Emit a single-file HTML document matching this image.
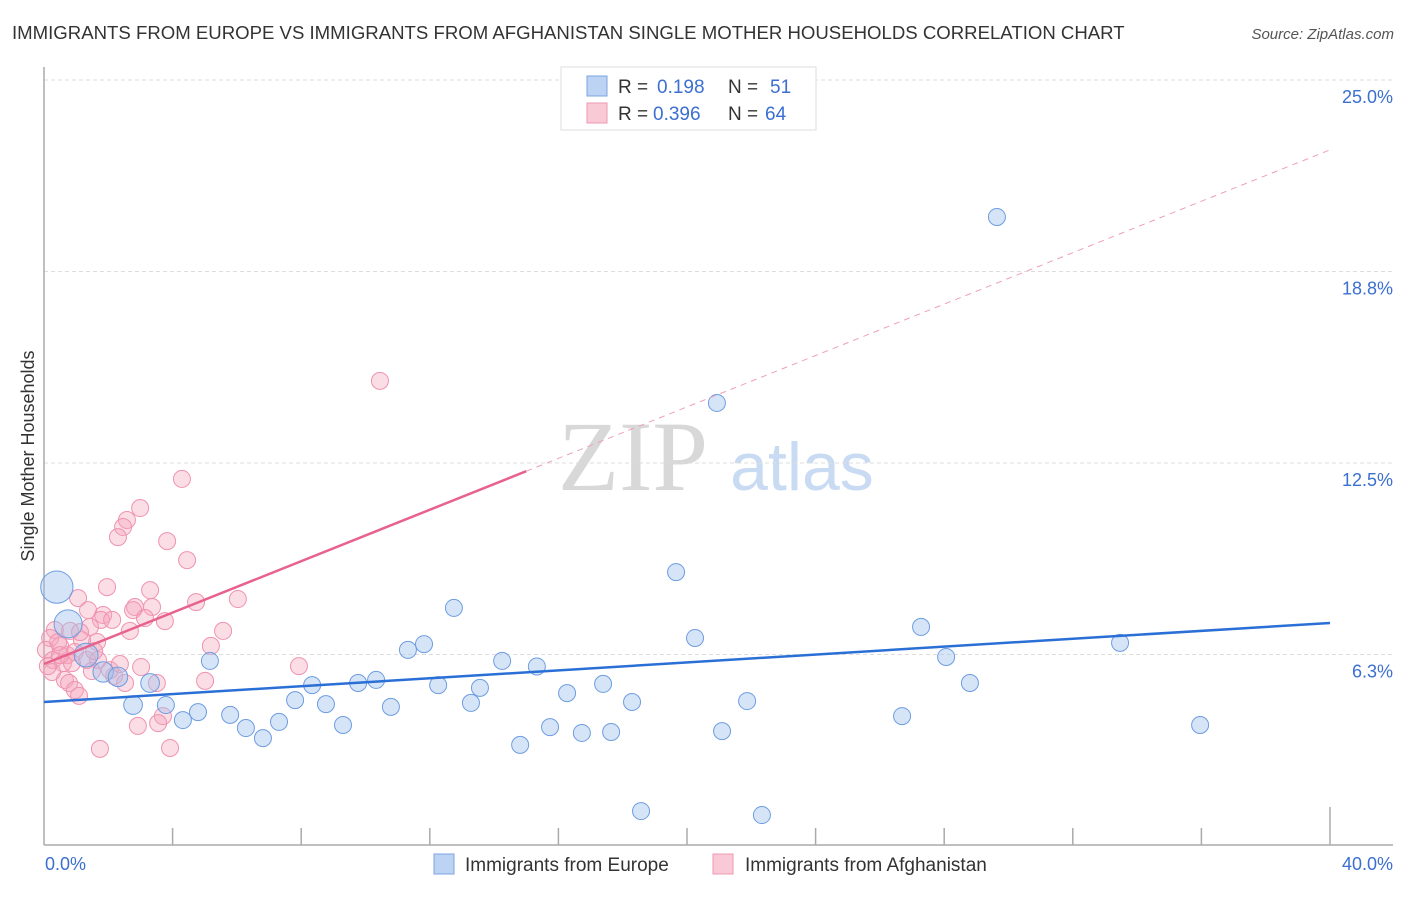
<!DOCTYPE html>
<html><head><meta charset="utf-8"><style>
body{margin:0;background:#fff;font-family:"Liberation Sans",sans-serif;}
svg text{font-family:"Liberation Sans",sans-serif;}
</style></head><body>
<svg width="1406" height="892" id="chart">
<text x="12" y="39" font-size="18.6" fill="#333">IMMIGRANTS FROM EUROPE VS IMMIGRANTS FROM AFGHANISTAN SINGLE MOTHER HOUSEHOLDS CORRELATION CHART</text>
<text x="1394" y="39" font-size="15" fill="#555" text-anchor="end" font-style="italic">Source: ZipAtlas.com</text>
<text x="633" y="490" font-size="100" fill="#d8d8d8" text-anchor="middle" style="font-family:'Liberation Serif',serif">ZIP</text>
<text x="802" y="490" font-size="68" fill="#c9daf3" text-anchor="middle">atlas</text>
<g id="grid"></g>
<line x1="44" y1="67" x2="44" y2="845" stroke="#aaa" stroke-width="1.5"/>
<line x1="44" y1="845" x2="1393" y2="845" stroke="#aaa" stroke-width="1.5"/>
<g id="ticks"></g>
<text x="34" y="456" font-size="18" fill="#333" text-anchor="middle" transform="rotate(-90 34 456)">Single Mother Households</text>
<text x="45" y="870" font-size="18" fill="#3b6fd0">0.0%</text>
<text x="1393" y="870" font-size="18" fill="#3b6fd0" text-anchor="end">40.0%</text>
<g id="pts"></g>
<g id="lines"></g>
<g>
<rect x="561" y="67" width="255" height="63" fill="#fff" stroke="#ddd"/>
<rect x="587" y="76" width="20" height="20" fill="#bcd3f3" stroke="#7aa5e0"/>
<rect x="587" y="103" width="20" height="20" fill="#f9c9d6" stroke="#ef99b3"/>
<text x="618" y="93" font-size="19" fill="#333">R =</text><text x="657" y="93" font-size="19" fill="#3b6fd0">0.198</text>
<text x="728" y="93" font-size="19" fill="#333">N =</text><text x="770" y="93" font-size="19" fill="#3b6fd0">51</text>
<text x="618" y="120" font-size="19" fill="#333">R =</text><text x="653" y="120" font-size="19" fill="#3b6fd0">0.396</text>
<text x="728" y="120" font-size="19" fill="#333">N =</text><text x="765" y="120" font-size="19" fill="#3b6fd0">64</text>
</g>
<g>
<rect x="434" y="854" width="20" height="20" fill="#bcd3f3" stroke="#7aa5e0"/>
<text x="465" y="871" font-size="19" fill="#333">Immigrants from Europe</text>
<rect x="713" y="854" width="20" height="20" fill="#f9c9d6" stroke="#ef99b3"/>
<text x="745" y="871" font-size="19" fill="#333">Immigrants from Afghanistan</text>
</g>
</svg>
<script>
const yTicks=[25.0,18.8,12.5,6.3];
const yTickVals=[25,18.75,12.5,6.25];
const blueX=[0.40,0.75,1.31,1.84,2.30,3.30,2.77,3.79,4.32,4.79,5.16,5.79,6.28,6.81,7.31,7.81,8.34,8.77,9.30,9.77,10.33,10.79,11.32,11.82,12.26,12.75,13.28,13.56,14.25,14.81,15.33,15.74,16.27,16.73,17.39,17.64,18.29,18.57,19.66,20.25,21.09,21.87,22.33,20.93,26.69,27.28,28.06,28.80,29.64,33.47,35.96];
const blueY=[8.45,7.25,6.23,5.68,5.52,5.32,4.60,4.60,4.11,4.37,6.04,4.28,3.85,3.52,4.05,4.76,5.25,4.63,3.95,5.32,5.42,4.54,6.40,6.59,5.25,7.77,4.67,5.16,6.04,3.30,5.86,3.88,4.99,3.69,5.29,3.72,4.70,1.14,8.94,6.79,3.75,4.73,1.01,14.46,4.24,7.15,6.17,5.32,20.53,6.63,3.95];
const blueW=[1.9,1.65,1.4,1.2,1.15,1.1,1.1,1,1,1,1,1,1,1,1,1,1,1,1,1,1,1,1,1,1,1,1,1,1,1,1,1,1,1,1,1,1,1,1,1,1,1,1,1,1,1,1,1,1,1,1];
const pinkX=[10.45,4.29,2.99,2.58,2.46,2.30,3.83,4.45,1.96,6.03,4.73,1.06,2.83,3.36,1.37,1.84,2.77,3.14,3.76,1.77,1.43,2.67,5.57,0.34,0.19,0.81,1.65,1.18,5.19,0.06,0.50,0.28,0.72,0.96,1.34,1.68,0.59,3.02,7.93,0.25,1.49,2.18,2.52,5.01,3.51,0.65,0.78,0.96,1.09,3.70,3.55,2.92,1.74,3.92,2.05,0.44,1.12,2.36,0.12,0.87,1.56,0.50,3.30,2.12];
const pinkY=[15.18,11.98,11.03,10.64,10.41,10.08,9.95,9.33,8.45,8.06,7.96,8.09,7.80,7.80,7.70,7.54,7.70,7.44,7.34,7.38,7.15,7.02,7.02,7.05,6.79,7.02,6.66,6.72,6.53,6.40,6.53,6.07,6.23,6.33,6.07,6.07,5.97,5.84,5.87,5.68,5.71,5.55,5.32,5.39,5.32,5.42,5.32,5.09,4.90,4.24,4.01,3.92,3.17,3.20,5.74,6.66,6.98,5.94,5.87,5.97,6.36,6.23,8.35,7.38];
const blueTrend=[4.70,7.28];
const pinkTrend=[5.94,22.72];
const xMax=40;
const NS='http://www.w3.org/2000/svg';
function X(v){return 44+v/xMax*1286;}
function Y(v){return 846-v/25*766;}
function mk(t,a,p){const e=document.createElementNS(NS,t);for(const k in a)e.setAttribute(k,a[k]);p.appendChild(e);return e;}
const grid=document.getElementById('grid');
yTickVals.forEach((v,i)=>{
 const l=mk('line',{x1:44,x2:1393,y1:Y(v),y2:Y(v),stroke:'#ddd','stroke-dasharray':'4,3'},grid);
 
 
 const t=mk('text',{x:1393,y:Y(v)+23,'font-size':18,fill:'#3b6fd0','text-anchor':'end'},grid);
 t.textContent=yTicks[i].toFixed(1)+'%';
 
 
});
const ticks=document.getElementById('ticks');
for(let i=1;i<=10;i++){
 const l=mk('line',{x1:X(i*4),x2:X(i*4),y1:i==10?807:828,y2:845,stroke:'#aaa','stroke-width':1.5},ticks);
 
 
}
const pts=document.getElementById('pts');
pinkX.forEach((v,i)=>{
 const c=mk('circle',{cx:X(v),cy:Y(pinkY[i]),r:8.5,fill:'rgba(245,165,190,0.38)',stroke:'#ef93b0','stroke-width':1},pts);
 
 
});
blueX.forEach((v,i)=>{
 const c=mk('circle',{cx:X(v),cy:Y(blueY[i]),r:8.5*blueW[i],fill:'rgba(165,195,238,0.45)',stroke:'#6d9de0','stroke-width':1},pts);
 
 
});
const lines=document.getElementById('lines');
let l=mk('line',{x1:X(0),y1:Y(blueTrend[0]),x2:X(40),y2:Y(blueTrend[1]),stroke:'#2a6fd6','stroke-width':2.5},lines);


const pf=v=>pinkTrend[0]+(pinkTrend[1]-pinkTrend[0])*v/40;
l=mk('line',{x1:X(0),y1:Y(pf(0)),x2:X(15),y2:Y(pf(15)),stroke:'#e8628e','stroke-width':2.5},lines);


l=mk('line',{x1:X(15),y1:Y(pf(15)),x2:X(40),y2:Y(pf(40)),stroke:'#eea0b8','stroke-width':1,'stroke-dasharray':'6,5'},lines);


</script>
</body></html>
